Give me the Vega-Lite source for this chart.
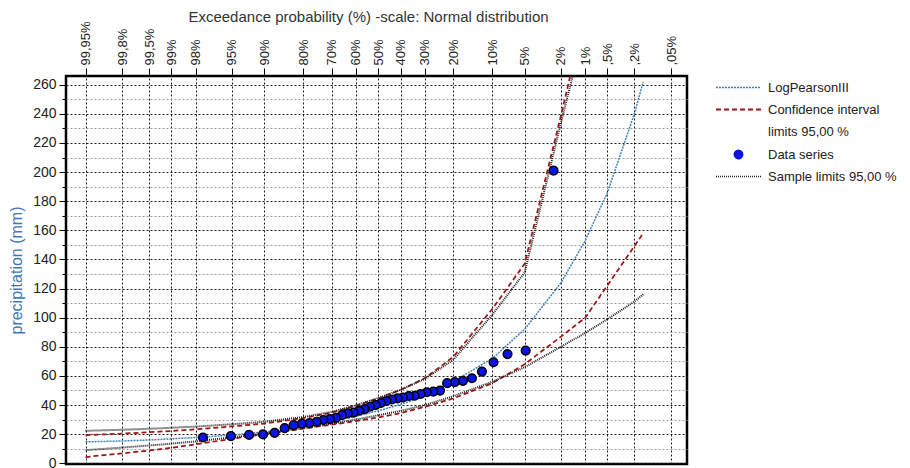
{
  "$schema": "https://vega.github.io/schema/vega-lite/v6.json",
  "width": 621,
  "height": 388,
  "autosize": {"type": "none"},
  "padding": {"left": 66, "top": 76, "right": 223, "bottom": 4},
  "background": "white",
  "config": {
    "font": "Liberation Sans",
    "view": {"stroke": "black", "strokeWidth": 2.5},
    "axis": {"domain": false, "tickColor": "black", "labelColor": "#222", "titleFontWeight": "normal"},
    "axisX": {
      "labelAngle": 270, "labelFontSize": 13, "labelPadding": 3, "labelBound": false, "labelOverlap": false,
      "tickSize": 8, "grid": true, "gridColor": "#1a1a1a", "gridDash": [2, 2], "gridWidth": 1,
      "titleFontSize": 15, "titleColor": "#333", "titleX": 302, "titleY": -60, "titleBaseline": "middle", "titleAnchor": "middle"
    }
  },
  "datasets": {
    "points": [
      {"p": 2.439, "precip": 201}, {"p": 4.878, "precip": 77.4}, {"p": 7.317, "precip": 75}, {"p": 9.756, "precip": 69.4},
      {"p": 12.195, "precip": 63}, {"p": 14.634, "precip": 58.4}, {"p": 17.073, "precip": 56.6}, {"p": 19.512, "precip": 55.7},
      {"p": 21.951, "precip": 55}, {"p": 24.39, "precip": 49.9}, {"p": 26.829, "precip": 49.2}, {"p": 29.268, "precip": 48.8},
      {"p": 31.707, "precip": 47.6}, {"p": 34.146, "precip": 46.4}, {"p": 36.585, "precip": 46.2}, {"p": 39.024, "precip": 45.2},
      {"p": 41.463, "precip": 44.6}, {"p": 43.902, "precip": 43.8}, {"p": 46.341, "precip": 42.8}, {"p": 48.78, "precip": 41.4},
      {"p": 51.22, "precip": 40}, {"p": 53.659, "precip": 38.8}, {"p": 56.098, "precip": 37.2}, {"p": 58.537, "precip": 36.1},
      {"p": 60.976, "precip": 34.8}, {"p": 63.415, "precip": 34.3}, {"p": 65.854, "precip": 33.1}, {"p": 68.293, "precip": 31.2},
      {"p": 70.732, "precip": 30.3}, {"p": 73.171, "precip": 29.7}, {"p": 75.61, "precip": 28.5}, {"p": 78.049, "precip": 27.6},
      {"p": 80.488, "precip": 27.2}, {"p": 82.927, "precip": 26.2}, {"p": 85.366, "precip": 24.1}, {"p": 87.805, "precip": 20.9},
      {"p": 90.244, "precip": 19.8}, {"p": 92.683, "precip": 19.5}, {"p": 95.122, "precip": 18.6}, {"p": 97.561, "precip": 17.7}
    ],
    "curves": [
      {"curve": "lp3", "series": "LogPearsonIII", "p": 99.95, "value": 14.7},
      {"curve": "lp3", "series": "LogPearsonIII", "p": 99.8, "value": 15.3},
      {"curve": "lp3", "series": "LogPearsonIII", "p": 99.5, "value": 16},
      {"curve": "lp3", "series": "LogPearsonIII", "p": 99, "value": 16.8},
      {"curve": "lp3", "series": "LogPearsonIII", "p": 98, "value": 17.7},
      {"curve": "lp3", "series": "LogPearsonIII", "p": 95, "value": 19.4},
      {"curve": "lp3", "series": "LogPearsonIII", "p": 90, "value": 21.5},
      {"curve": "lp3", "series": "LogPearsonIII", "p": 80, "value": 25.2},
      {"curve": "lp3", "series": "LogPearsonIII", "p": 70, "value": 28.8},
      {"curve": "lp3", "series": "LogPearsonIII", "p": 60, "value": 32.3},
      {"curve": "lp3", "series": "LogPearsonIII", "p": 50, "value": 36},
      {"curve": "lp3", "series": "LogPearsonIII", "p": 40, "value": 40.5},
      {"curve": "lp3", "series": "LogPearsonIII", "p": 30, "value": 46},
      {"curve": "lp3", "series": "LogPearsonIII", "p": 20, "value": 56},
      {"curve": "lp3", "series": "LogPearsonIII", "p": 10, "value": 72},
      {"curve": "lp3", "series": "LogPearsonIII", "p": 5, "value": 92},
      {"curve": "lp3", "series": "LogPearsonIII", "p": 2, "value": 124},
      {"curve": "lp3", "series": "LogPearsonIII", "p": 1, "value": 153},
      {"curve": "lp3", "series": "LogPearsonIII", "p": 0.5, "value": 186},
      {"curve": "lp3", "series": "LogPearsonIII", "p": 0.2, "value": 240},
      {"curve": "lp3", "series": "LogPearsonIII", "p": 0.145, "value": 262},

      {"curve": "ci_up", "series": "Confidence interval", "p": 99.95, "value": 19.3},
      {"curve": "ci_up", "series": "Confidence interval", "p": 99.8, "value": 20.4},
      {"curve": "ci_up", "series": "Confidence interval", "p": 99.5, "value": 21.3},
      {"curve": "ci_up", "series": "Confidence interval", "p": 99, "value": 22.2},
      {"curve": "ci_up", "series": "Confidence interval", "p": 98, "value": 23.3},
      {"curve": "ci_up", "series": "Confidence interval", "p": 95, "value": 25.3},
      {"curve": "ci_up", "series": "Confidence interval", "p": 90, "value": 27.3},
      {"curve": "ci_up", "series": "Confidence interval", "p": 80, "value": 31},
      {"curve": "ci_up", "series": "Confidence interval", "p": 70, "value": 34.8},
      {"curve": "ci_up", "series": "Confidence interval", "p": 60, "value": 39.5},
      {"curve": "ci_up", "series": "Confidence interval", "p": 50, "value": 44.5},
      {"curve": "ci_up", "series": "Confidence interval", "p": 40, "value": 50.5},
      {"curve": "ci_up", "series": "Confidence interval", "p": 30, "value": 58.5},
      {"curve": "ci_up", "series": "Confidence interval", "p": 20, "value": 73},
      {"curve": "ci_up", "series": "Confidence interval", "p": 10, "value": 106},
      {"curve": "ci_up", "series": "Confidence interval", "p": 5, "value": 137},
      {"curve": "ci_up", "series": "Confidence interval", "p": 2, "value": 239},
      {"curve": "ci_up", "series": "Confidence interval", "p": 1, "value": 310},

      {"curve": "ci_lo", "series": "Confidence interval", "p": 99.95, "value": 4.3},
      {"curve": "ci_lo", "series": "Confidence interval", "p": 99.8, "value": 6.8},
      {"curve": "ci_lo", "series": "Confidence interval", "p": 99.5, "value": 8.8},
      {"curve": "ci_lo", "series": "Confidence interval", "p": 99, "value": 10.6},
      {"curve": "ci_lo", "series": "Confidence interval", "p": 98, "value": 13},
      {"curve": "ci_lo", "series": "Confidence interval", "p": 95, "value": 16.8},
      {"curve": "ci_lo", "series": "Confidence interval", "p": 90, "value": 20},
      {"curve": "ci_lo", "series": "Confidence interval", "p": 80, "value": 23.8},
      {"curve": "ci_lo", "series": "Confidence interval", "p": 70, "value": 26.5},
      {"curve": "ci_lo", "series": "Confidence interval", "p": 60, "value": 29},
      {"curve": "ci_lo", "series": "Confidence interval", "p": 50, "value": 31.5},
      {"curve": "ci_lo", "series": "Confidence interval", "p": 40, "value": 34.5},
      {"curve": "ci_lo", "series": "Confidence interval", "p": 30, "value": 38.8},
      {"curve": "ci_lo", "series": "Confidence interval", "p": 20, "value": 44.5},
      {"curve": "ci_lo", "series": "Confidence interval", "p": 10, "value": 55},
      {"curve": "ci_lo", "series": "Confidence interval", "p": 5, "value": 68},
      {"curve": "ci_lo", "series": "Confidence interval", "p": 2, "value": 87},
      {"curve": "ci_lo", "series": "Confidence interval", "p": 1, "value": 100},
      {"curve": "ci_lo", "series": "Confidence interval", "p": 0.145, "value": 158},

      {"curve": "sl_up", "series": "Sample limits 95,00 %", "p": 99.95, "value": 22.3},
      {"curve": "sl_up", "series": "Sample limits 95,00 %", "p": 99.8, "value": 23},
      {"curve": "sl_up", "series": "Sample limits 95,00 %", "p": 99.5, "value": 23.7},
      {"curve": "sl_up", "series": "Sample limits 95,00 %", "p": 99, "value": 24.4},
      {"curve": "sl_up", "series": "Sample limits 95,00 %", "p": 98, "value": 25.2},
      {"curve": "sl_up", "series": "Sample limits 95,00 %", "p": 95, "value": 26.8},
      {"curve": "sl_up", "series": "Sample limits 95,00 %", "p": 90, "value": 28.5},
      {"curve": "sl_up", "series": "Sample limits 95,00 %", "p": 80, "value": 31.8},
      {"curve": "sl_up", "series": "Sample limits 95,00 %", "p": 70, "value": 35.3},
      {"curve": "sl_up", "series": "Sample limits 95,00 %", "p": 60, "value": 39.8},
      {"curve": "sl_up", "series": "Sample limits 95,00 %", "p": 50, "value": 44.8},
      {"curve": "sl_up", "series": "Sample limits 95,00 %", "p": 40, "value": 50.5},
      {"curve": "sl_up", "series": "Sample limits 95,00 %", "p": 30, "value": 58},
      {"curve": "sl_up", "series": "Sample limits 95,00 %", "p": 20, "value": 71},
      {"curve": "sl_up", "series": "Sample limits 95,00 %", "p": 10, "value": 102},
      {"curve": "sl_up", "series": "Sample limits 95,00 %", "p": 5, "value": 131},
      {"curve": "sl_up", "series": "Sample limits 95,00 %", "p": 2, "value": 234},
      {"curve": "sl_up", "series": "Sample limits 95,00 %", "p": 1, "value": 300},

      {"curve": "sl_lo", "series": "Sample limits 95,00 %", "p": 99.95, "value": 9},
      {"curve": "sl_lo", "series": "Sample limits 95,00 %", "p": 99.8, "value": 10.8},
      {"curve": "sl_lo", "series": "Sample limits 95,00 %", "p": 99.5, "value": 12.2},
      {"curve": "sl_lo", "series": "Sample limits 95,00 %", "p": 99, "value": 13.5},
      {"curve": "sl_lo", "series": "Sample limits 95,00 %", "p": 98, "value": 15},
      {"curve": "sl_lo", "series": "Sample limits 95,00 %", "p": 95, "value": 17.8},
      {"curve": "sl_lo", "series": "Sample limits 95,00 %", "p": 90, "value": 20.5},
      {"curve": "sl_lo", "series": "Sample limits 95,00 %", "p": 80, "value": 24.2},
      {"curve": "sl_lo", "series": "Sample limits 95,00 %", "p": 70, "value": 27.2},
      {"curve": "sl_lo", "series": "Sample limits 95,00 %", "p": 60, "value": 30},
      {"curve": "sl_lo", "series": "Sample limits 95,00 %", "p": 50, "value": 33},
      {"curve": "sl_lo", "series": "Sample limits 95,00 %", "p": 40, "value": 36},
      {"curve": "sl_lo", "series": "Sample limits 95,00 %", "p": 30, "value": 40},
      {"curve": "sl_lo", "series": "Sample limits 95,00 %", "p": 20, "value": 46},
      {"curve": "sl_lo", "series": "Sample limits 95,00 %", "p": 10, "value": 56},
      {"curve": "sl_lo", "series": "Sample limits 95,00 %", "p": 5, "value": 66},
      {"curve": "sl_lo", "series": "Sample limits 95,00 %", "p": 2, "value": 80},
      {"curve": "sl_lo", "series": "Sample limits 95,00 %", "p": 1, "value": 89.5},
      {"curve": "sl_lo", "series": "Sample limits 95,00 %", "p": 0.5, "value": 99},
      {"curve": "sl_lo", "series": "Sample limits 95,00 %", "p": 0.2, "value": 111},
      {"curve": "sl_lo", "series": "Sample limits 95,00 %", "p": 0.145, "value": 116}
    ]
  },
  "resolve": {"axis": {"y": "independent"}},
  "layer": [
    {
      "data": {"name": "curves"},
      "transform": [{"calculate": "quantileNormal(1 - datum.p / 100)", "as": "z"}],
      "mark": {"type": "line", "clip": true},
      "encoding": {
        "x": {"field": "z", "type": "quantitative", "scale": {"domain": [-3.51, 3.47], "nice": false, "zero": false},
          "axis": {
            "orient": "top",
            "values": [-3.2905, -2.8782, -2.5758, -2.3263, -2.0537, -1.6449, -1.2816, -0.8416, -0.5244, -0.2533, 0, 0.2533, 0.5244, 0.8416, 1.2816, 1.6449, 2.0537, 2.3263, 2.5758, 2.8782, 3.2905],
            "labelExpr": "datum.value < -3 ? '99,95%' : datum.value < -2.7 ? '99,8%' : datum.value < -2.4 ? '99,5%' : datum.value < -2.2 ? '99%' : datum.value < -1.9 ? '98%' : datum.value < -1.5 ? '95%' : datum.value < -1.1 ? '90%' : datum.value < -0.7 ? '80%' : datum.value < -0.4 ? '70%' : datum.value < -0.1 ? '60%' : datum.value < 0.1 ? '50%' : datum.value < 0.4 ? '40%' : datum.value < 0.7 ? '30%' : datum.value < 1.1 ? '20%' : datum.value < 1.5 ? '10%' : datum.value < 1.9 ? '5%' : datum.value < 2.2 ? '2%' : datum.value < 2.4 ? '1%' : datum.value < 2.7 ? ',5%' : datum.value < 3 ? ',2%' : ',05%'",
            "title": "Exceedance probability (%) -scale: Normal distribution"
          }},
        "y": {"field": "value", "type": "quantitative", "scale": {"domain": [-0.5, 266], "nice": false, "zero": false},
              "axis": {"orient": "left", "values": [10, 30, 50, 70, 90, 110, 130, 150, 170, 190, 210, 230, 250], "labels": false, "title": null, "tickSize": 4, "grid": true, "gridColor": "#9a9a9a", "gridDash": [2, 2], "gridWidth": 1}},
        "detail": {"field": "curve"},
        "color": {"field": "series", "type": "nominal",
          "scale": {"domain": ["LogPearsonIII", "Confidence interval", "limits 95,00 %", "Data series", "Sample limits 95,00 %"], "range": ["#3f7fbf", "#a01515", "#ffffff", "#0a14e6", "#222222"]},
          "legend": {
            "orient": "none", "legendX": 666, "legendY": 5, "title": null,
            "symbolType": "stroke", "symbolStrokeWidth": 1.5,
            "labelFontSize": 13, "labelColor": "#222", "labelOffset": 23, "rowPadding": 8,
            "encode": {"symbols": {"update": {
              "shape": {"signal": "datum.value === 'Data series' ? 'circle' : 'stroke'"},
              "size": {"signal": "datum.value === 'Data series' ? 70 : 2025"},
              "strokeDash": {"signal": "datum.value === 'LogPearsonIII' ? [2,1] : datum.value === 'Confidence interval' ? [5,3] : datum.value === 'Sample limits 95,00 %' ? [1,1] : [1,0]"},
              "stroke": {"signal": "datum.value === 'Data series' ? '#000000' : datum.value === 'LogPearsonIII' ? '#3f7fbf' : datum.value === 'Confidence interval' ? '#a01515' : datum.value === 'Sample limits 95,00 %' ? '#222222' : 'transparent'"},
              "fill": {"signal": "datum.value === 'Data series' ? '#0a14e6' : 'transparent'"},
              "opacity": {"signal": "datum.value === 'limits 95,00 %' ? 0 : 1"},
              "strokeWidth": {"signal": "datum.value === 'Confidence interval' ? 2 : 1.5"}
            }}}
          }
        },
        "strokeDash": {"field": "series", "type": "nominal",
          "scale": {"domain": ["LogPearsonIII", "Confidence interval", "Sample limits 95,00 %"], "range": [[2, 1], [5, 3], [1, 1]]}, "legend": null},
        "strokeWidth": {"field": "series", "type": "nominal",
          "scale": {"domain": ["LogPearsonIII", "Confidence interval", "Sample limits 95,00 %"], "range": [1.5, 2, 1.3]}, "legend": null}
      }
    },
    {
      "data": {"name": "points"},
      "transform": [{"calculate": "quantileNormal(1 - datum.p / 100)", "as": "z"}],
      "mark": {"type": "circle", "size": 75, "stroke": "black", "strokeWidth": 1.5, "opacity": 1},
      "encoding": {
        "x": {"field": "z", "type": "quantitative", "scale": {"domain": [-3.51, 3.47], "nice": false, "zero": false},
          "axis": {
            "orient": "top",
            "values": [-3.2905, -2.8782, -2.5758, -2.3263, -2.0537, -1.6449, -1.2816, -0.8416, -0.5244, -0.2533, 0, 0.2533, 0.5244, 0.8416, 1.2816, 1.6449, 2.0537, 2.3263, 2.5758, 2.8782, 3.2905],
            "labelExpr": "datum.value < -3 ? '99,95%' : datum.value < -2.7 ? '99,8%' : datum.value < -2.4 ? '99,5%' : datum.value < -2.2 ? '99%' : datum.value < -1.9 ? '98%' : datum.value < -1.5 ? '95%' : datum.value < -1.1 ? '90%' : datum.value < -0.7 ? '80%' : datum.value < -0.4 ? '70%' : datum.value < -0.1 ? '60%' : datum.value < 0.1 ? '50%' : datum.value < 0.4 ? '40%' : datum.value < 0.7 ? '30%' : datum.value < 1.1 ? '20%' : datum.value < 1.5 ? '10%' : datum.value < 1.9 ? '5%' : datum.value < 2.2 ? '2%' : datum.value < 2.4 ? '1%' : datum.value < 2.7 ? ',5%' : datum.value < 3 ? ',2%' : ',05%'",
            "title": "Exceedance probability (%) -scale: Normal distribution"
          }},
        "y": {"field": "precip", "type": "quantitative", "scale": {"domain": [-0.5, 266], "nice": false, "zero": false},
          "axis": {
            "orient": "left",
            "values": [0, 20, 40, 60, 80, 100, 120, 140, 160, 180, 200, 220, 240, 260],
            "labelFontSize": 14, "labelPadding": 3, "tickSize": 7,
            "grid": true, "gridColor": "#1a1a1a", "gridDash": [2, 2], "gridWidth": 1,
            "title": "precipitation (mm)", "titleFontSize": 16, "titleColor": "#3d78b8", "titlePadding": 8
          }},
        "color": {"datum": "Data series",
          "scale": {"domain": ["LogPearsonIII", "Confidence interval", "limits 95,00 %", "Data series", "Sample limits 95,00 %"], "range": ["#3f7fbf", "#a01515", "#ffffff", "#0a14e6", "#222222"]}}
      }
    }
  ]
}
